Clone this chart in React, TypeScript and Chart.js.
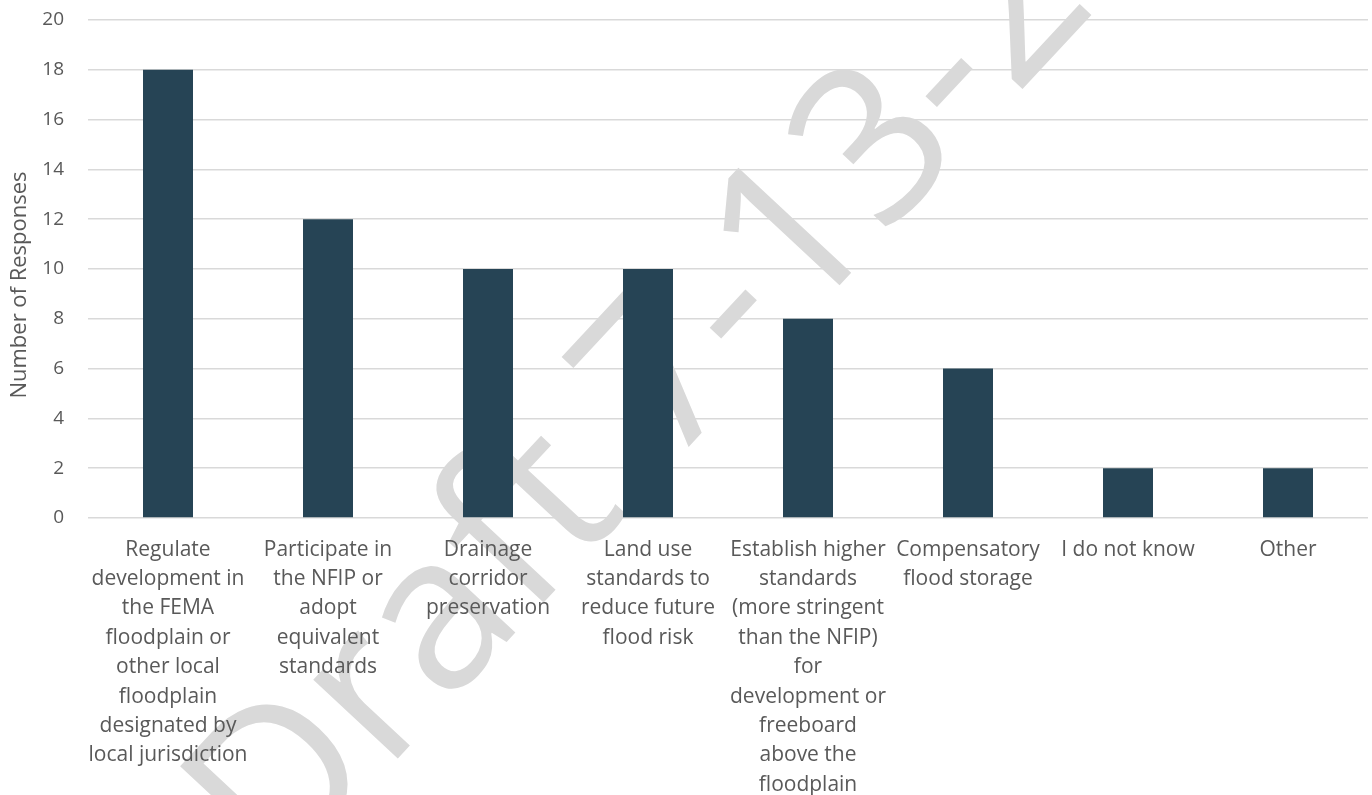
import React, { useEffect, useRef } from "react";
import { Chart, registerables } from "chart.js";

Chart.register(...registerables);

const categories: string[][] = [
  ["Regulate", "development in", "the FEMA", "floodplain or", "other local", "floodplain", "designated by", "local jurisdiction"],
  ["Participate in", "the NFIP or", "adopt", "equivalent", "standards"],
  ["Drainage", "corridor", "preservation"],
  ["Land use", "standards to", "reduce future", "flood risk"],
  ["Establish higher", "standards", "(more stringent", "than the NFIP)", "for", "development or", "freeboard", "above the", "floodplain"],
  ["Compensatory", "flood storage"],
  ["I do not know"],
  ["Other"],
];
const responses: number[] = [18, 12, 10, 10, 8, 6, 2, 2];
const yTitle = "Number of Responses";
const watermarkText = "Draft 7-13-22";

const FONT = "'Open Sans', 'DejaVu Sans', sans-serif";
const TEXT = "#595959";

const watermark = {
  id: "watermark",
  beforeDraw(chart: any) {
    const ctx = chart.ctx;
    ctx.save();
    const size = 216;
    ctx.font = `${size}px ${FONT}`;
    ctx.fillStyle = "#d9d9d9";
    const ang = (-47 * Math.PI) / 180;
    // anchor: stem of the "1" in "13" on the baseline
    const ax = 848, ay = 276;
    const pre = ctx.measureText("Draft 7-").width + 0.33 * size;
    const ox = ax - Math.cos(ang) * pre;
    const oy = ay - Math.sin(ang) * pre;
    ctx.translate(ox, oy);
    ctx.rotate(ang);
    ctx.textBaseline = "alphabetic";
    ctx.textAlign = "left";
    ctx.fillText(watermarkText, 0, 0);
    ctx.restore();
  },
};

const axisTitle = {
  id: "axisTitle",
  afterDraw(chart: any) {
    const ctx = chart.ctx;
    ctx.save();
    ctx.font = `22px ${FONT}`;
    ctx.fillStyle = TEXT;
    ctx.textAlign = "center";
    ctx.textBaseline = "middle";
    ctx.translate(20, 285);
    ctx.rotate(-Math.PI / 2);
    ctx.fillText(yTitle, 0, 0);
    ctx.restore();
  },
};

export default function App() {
  const ref = useRef<HTMLCanvasElement | null>(null);
  useEffect(() => {
    if (!ref.current) return;
    const chart = new Chart(ref.current, {
      type: "bar",
      data: {
        labels: categories,
        datasets: [
          {
            data: responses,
            backgroundColor: "#264455",
            borderWidth: 0,
            barPercentage: 0.3125,
            categoryPercentage: 1,
          },
        ],
      },
      plugins: [watermark, axisTitle],
      options: {
        animation: false,
        responsive: false,
        maintainAspectRatio: false,
        layout: { padding: { left: 0, right: 4, top: 20, bottom: 0 } },
        plugins: { legend: { display: false }, tooltip: { enabled: false } },
        scales: {
          x: {
            grid: { display: false, drawTicks: false },
            border: { display: false },
            ticks: {
              color: TEXT,
              font: { family: FONT, size: 21, lineHeight: 1.4 },
              padding: 17,
              maxRotation: 0,
              autoSkip: false,
            },
            afterFit: (s: any) => {
              s.height = 277;
            },
          },
          y: {
            min: 0,
            max: 20,
            grid: { color: "#d9d9d9", lineWidth: 1.5, drawTicks: false },
            border: { display: false },
            ticks: {
              stepSize: 2,
              color: TEXT,
              font: { family: FONT, size: 19 },
              padding: 24,
            },
            afterFit: (s: any) => {
              s.width = 88;
              s.paddingTop = 0;
              s.paddingBottom = 0;
            },
          },
        },
      },
    });
    return () => chart.destroy();
  }, []);
  return (
    <div style={{ position: "absolute", left: 0, top: 0, width: 1372, height: 795, background: "#fff" }}>
      <canvas ref={ref} width={1372} height={795} style={{ width: 1372, height: 795, display: "block" }} />
    </div>
  );
}
